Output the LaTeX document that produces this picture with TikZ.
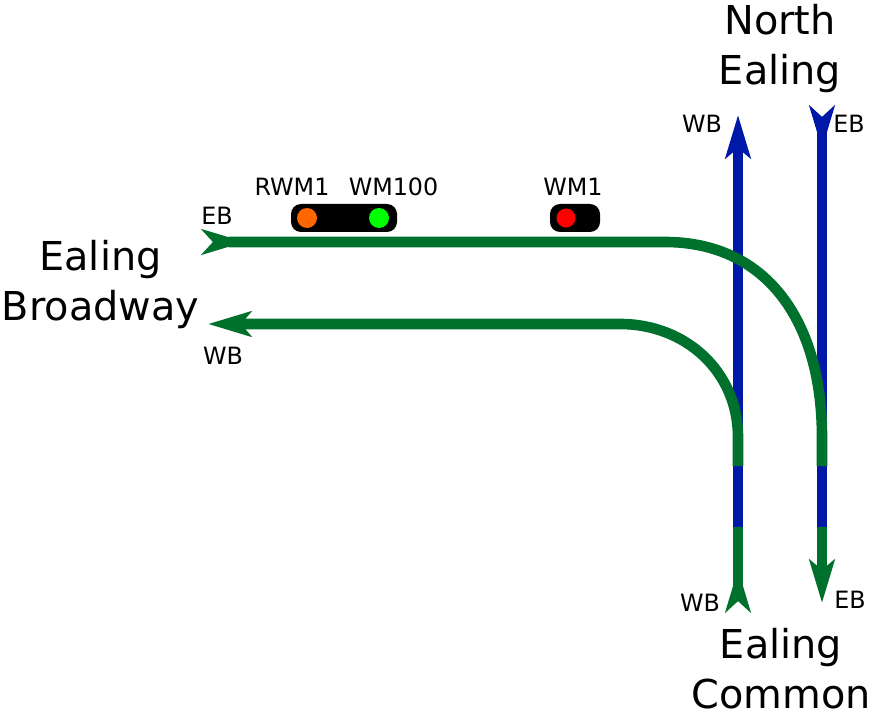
\documentclass[tikz,border=0pt]{standalone}
\usepackage{fontspec}
\setmainfont{DejaVu Sans}
\usetikzlibrary{arrows.meta}
\definecolor{trackgreen}{RGB}{0,112,45}
\definecolor{trackblue}{RGB}{0,24,168}
\definecolor{lamporange}{RGB}{255,102,0}
\definecolor{lampgreen}{RGB}{0,255,0}
\definecolor{lampred}{RGB}{255,0,0}

\begin{document}
\begin{tikzpicture}[x=1pt, y=-1pt]
  \tikzstyle{station}=[align=center, font=\fontsize{39.8}{50}\selectfont, inner sep=0pt]
  \tikzstyle{dirlabel}=[font=\fontsize{23.8}{28}\selectfont, inner sep=0pt]
  \tikzstyle{signalbox}=[draw=none, fill=black, rounded corners=10pt, minimum height=28pt, inner sep=0pt]
  \tikzstyle{lamp}=[circle, draw=none, minimum size=20pt, inner sep=0pt]
  \tikzstyle{track}=[draw, line width=10.6pt]
  \tikzstyle{headin}=[{Stealth[length=43pt, width=25pt, inset=11pt, reversed]}-]
  \tikzstyle{headout}=[-{Stealth[length=43pt, width=25pt, inset=10pt]}]
  \useasboundingbox (0,0) rectangle (873,714);

  \node (north) [station] at (780,49) {North\\Ealing};
  \node (broadway) [station] at (100.5,285) {Ealing\\Broadway};
  \node (common) [station] at (781,669) {Ealing\\Common};

  \node (boxa) [signalbox, minimum width=106pt] at (344,218) {};
  \node (boxb) [signalbox, minimum width=50pt] at (575,218) {};
  \node (rwm) [lamp, fill=lamporange] at (307,218) {};
  \node (wmh) [lamp, fill=lampgreen] at (379,218) {};
  \node (wmo) [lamp, fill=lampred, minimum size=19pt] at (566,218) {};

  \node (lrwm) [dirlabel] at (292,187) {RWM1};
  \node (lwmh) [dirlabel] at (393.5,187) {WM100};
  \node (lwmo) [dirlabel] at (573,187) {WM1};
  \node (lebw) [dirlabel] at (217,216) {EB};
  \node (lwbw) [dirlabel] at (223,356) {WB};
  \node (lwbn) [dirlabel] at (702,124) {WB};
  \node (lebn) [dirlabel] at (849,124) {EB};
  \node (lwbs) [dirlabel] at (700,603) {WB};
  \node (lebs) [dirlabel] at (850,600) {EB};

  % track ends
  \coordinate (wbtop) at (738,115);
  \coordinate (wbjoin) at (738,527);
  \coordinate (wbfork) at (738,437);
  \coordinate (wbgap) at (738,466);
  \coordinate (wbend) at (738,612);
  \coordinate (ebtop) at (822,106);
  \coordinate (ebjoin) at (822,527);
  \coordinate (ebfork) at (822,437);
  \coordinate (ebgap) at (822,466);
  \coordinate (ebend) at (822,603);
  \coordinate (westin) at (202,242);
  \coordinate (westbend) at (665,242);
  \coordinate (westout) at (208,324);
  \coordinate (westturn) at (620,324);

  \draw [track, trackblue, headout] (wbjoin) -- (wbtop);
  \draw [track, trackblue, headin] (ebtop) -- (ebjoin);
  \draw [track, trackgreen, headin] (wbend) -- (wbjoin);
  \draw [track, trackgreen, headout] (ebjoin) -- (ebend);
  \draw [track, trackgreen, headin] (westin) -- (westbend) .. controls +(100,0) and +(0,-118) .. (ebfork) -- (ebgap);
  \draw [track, trackgreen, headout] (wbgap) -- (wbfork) .. controls +(0,-65) and +(66,0) .. (westturn) -- (westout);
\end{tikzpicture}
\end{document}
